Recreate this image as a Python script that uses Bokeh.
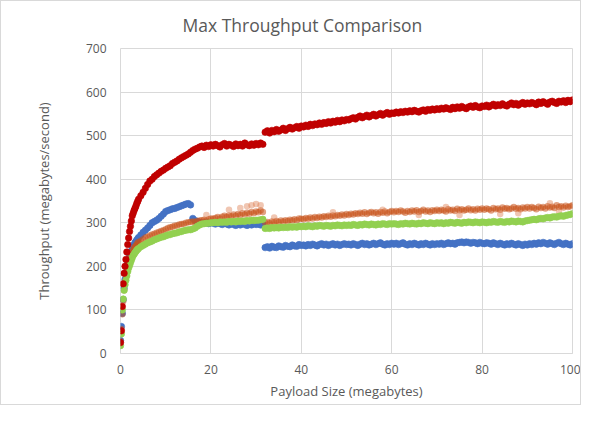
from bokeh.plotting import figure
from bokeh.models import Range1d, FixedTicker
from bokeh.embed import file_html
from bokeh.resources import INLINE

# ---------------- data ----------------
payload_mb = [0, 0.2, 0.4, 0.6, 0.8, 1.0, 1.2, 1.4, 1.6, 1.8, 2.0, 2.2, 2.4, 2.6, 2.8, 3.0, 3.2, 3.4, 3.6, 3.8, 4.0,
              4.5, 5, 5.5, 6, 6.5, 7, 7.5, 8, 8.5, 9, 9.5, 10,
              10.5, 11, 11.5, 12, 12.5, 13, 13.5, 14, 14.5, 15, 15.5, 16, 16.5, 17, 17.5, 18, 18.5, 19, 19.5, 20,
              20.5, 21, 21.5, 22, 22.5, 23, 23.5, 24, 24.5, 25, 25.5, 26, 26.5, 27, 27.5, 28, 28.5, 29, 29.5, 30,
              30.5, 31, 31.5, 32, 32.5, 33, 33.5, 34, 34.5, 35, 35.5, 36, 36.5, 37, 37.5, 38, 38.5, 39, 39.5, 40,
              40.5, 41, 41.5, 42, 42.5, 43, 43.5, 44, 44.5, 45, 45.5, 46, 46.5, 47, 47.5, 48, 48.5, 49, 49.5, 50,
              50.5, 51, 51.5, 52, 52.5, 53, 53.5, 54, 54.5, 55, 55.5, 56, 56.5, 57, 57.5, 58, 58.5, 59, 59.5, 60,
              60.5, 61, 61.5, 62, 62.5, 63, 63.5, 64, 64.5, 65, 65.5, 66, 66.5, 67, 67.5, 68, 68.5, 69, 69.5, 70,
              70.5, 71, 71.5, 72, 72.5, 73, 73.5, 74, 74.5, 75, 75.5, 76, 76.5, 77, 77.5, 78, 78.5, 79, 79.5, 80,
              80.5, 81, 81.5, 82, 82.5, 83, 83.5, 84, 84.5, 85, 85.5, 86, 86.5, 87, 87.5, 88, 88.5, 89, 89.5, 90,
              90.5, 91, 91.5, 92, 92.5, 93, 93.5, 94, 94.5, 95, 95.5, 96, 96.5, 97, 97.5, 98, 98.5, 99, 99.5, 100]

red_series = [25, 52, 108, 160, 184, 200, 216, 233, 250, 265, 280, 292, 304, 316, 322, 328, 333, 338, 344, 349, 354,
              362, 370, 379, 388, 396, 400, 406, 410, 414, 418, 421, 425,
              428, 431, 436, 439, 442, 446, 449, 452, 455, 458, 462, 466, 469, 471, 474, 476, 473, 478, 475, 479,
              476, 480, 477, 474, 479, 482, 476, 480, 478, 475, 481, 477, 480, 476, 483, 479, 477, 481, 478, 482,
              479, 483, 480, 508, 511, 506, 512, 509, 514, 510, 513, 517, 512, 516, 519, 515, 518, 521, 517, 522,
              520, 524, 521, 526, 523, 527, 525, 529, 526, 530, 528, 532, 529, 533, 531, 535, 532, 536, 534, 537,
              536, 539, 541, 538, 542, 545, 541, 544, 547, 543, 546, 549, 545, 548, 551, 547, 550, 553, 549, 552,
              551, 554, 552, 555, 553, 556, 554, 557, 555, 558, 556, 554, 557, 559, 556, 560, 558, 561, 559, 562,
              560, 563, 561, 564, 562, 560, 565, 562, 566, 563, 567, 564, 562, 566, 568, 565, 569, 566, 564, 568,
              567, 570, 566, 569, 572, 568, 571, 569, 573, 570, 568, 572, 575, 571, 574, 570, 573, 576, 572, 575,
              573, 576, 574, 571, 577, 574, 578, 575, 572, 577, 579, 576, 574, 579, 577, 580, 576, 581, 578, 582]

blue_series = [30, 62, 92, 124, 150, 170, 185, 198, 208, 216, 222, 228, 234, 240, 245, 250, 254, 257, 260, 263, 266,
               272, 278, 283, 288, 294, 300, 303, 306, 310, 315, 320, 326,
               328, 330, 332, 333, 335, 337, 339, 341, 343, 344, 341, 310, 305, 303, 301, 300, 299, 301, 298, 300,
               299, 297, 300, 298, 296, 299, 297, 295, 298, 296, 294, 297, 295, 298, 296, 294, 297, 295, 298, 296,
               297, 295, 298, 243, 245, 242, 246, 244, 243, 247, 245, 244, 248, 246, 245, 249, 247, 246, 250, 248,
               249, 247, 250, 248, 251, 249, 247, 250, 252, 249, 251, 248, 250, 252, 249, 251, 248, 250, 252, 250,
               251, 249, 252, 250, 248, 251, 253, 250, 252, 249, 251, 253, 250, 252, 254, 251, 249, 252, 250, 253,
               251, 253, 250, 252, 254, 251, 249, 252, 250, 253, 251, 249, 252, 250, 253, 251, 249, 252, 250, 252,
               251, 253, 250, 252, 254, 252, 253, 251, 254, 255, 256, 254, 256, 255, 253, 255, 254, 252, 255, 253,
               252, 254, 253, 251, 254, 252, 250, 253, 251, 249, 252, 250, 253, 251, 249, 252, 250, 248, 251, 249,
               252, 250, 253, 251, 254, 252, 255, 253, 251, 254, 252, 250, 253, 255, 252, 250, 253, 251, 249, 252]

orange_series = [28, 56, 90, 120, 145, 165, 180, 192, 202, 210, 218, 224, 230, 234, 238, 242, 245, 248, 251, 254, 256,
                 259, 262, 266, 268, 271, 273, 275, 277, 279, 281, 283, 285,
                 288, 290, 291, 293, 294, 296, 297, 298, 300, 301, 302, 303, 302, 304, 305, 306, 307, 305, 308, 310,
                 309, 311, 313, 310, 314, 316, 313, 317, 315, 319, 316, 320, 318, 322, 319, 323, 321, 325, 322, 326,
                 324, 328, 325, 300, 302, 299, 303, 301, 304, 302, 305, 303, 306, 304, 307, 305, 308, 306, 310, 309,
                 308, 311, 309, 312, 310, 313, 311, 314, 312, 315, 313, 316, 314, 317, 315, 318, 316, 319, 317, 320,
                 318, 321, 319, 322, 320, 323, 321, 324, 320, 323, 325, 322, 324, 321, 325, 323, 326, 322, 325, 327,
                 324, 327, 325, 328, 326, 323, 327, 325, 328, 326, 329, 325, 327, 330, 326, 328, 325, 329, 327, 330,
                 327, 330, 328, 326, 331, 328, 330, 327, 332, 329, 331, 328, 330, 333, 329, 331, 328, 332, 330, 333,
                 330, 333, 331, 328, 334, 331, 333, 330, 335, 332, 334, 331, 333, 336, 332, 334, 331, 335, 333, 336,
                 333, 336, 334, 331, 337, 334, 336, 333, 338, 335, 337, 334, 340, 336, 338, 335, 339, 336, 338, 340]

green_series = [18, 45, 100, 125, 145, 158, 168, 178, 188, 196, 202, 208, 214, 220, 225, 228, 231, 234, 237, 239, 241,
                245, 248, 251, 254, 256, 258, 261, 263, 265, 267, 268, 270,
                272, 273, 275, 276, 277, 279, 280, 282, 283, 284, 284, 286, 288, 292, 295, 297, 298, 299, 299, 300,
                300, 301, 300, 302, 301, 302, 301, 303, 302, 303, 302, 304, 303, 304, 303, 305, 304, 306, 305, 306,
                306, 307, 308, 287, 288, 287, 289, 288, 289, 288, 290, 289, 290, 289, 291, 290, 291, 290, 292, 291,
                292, 291, 293, 292, 291, 293, 292, 294, 293, 292, 294, 293, 292, 294, 293, 295, 294, 293, 295, 294,
                295, 294, 296, 295, 294, 296, 295, 297, 296, 295, 297, 296, 295, 297, 296, 298, 297, 296, 298, 297,
                298, 297, 296, 298, 297, 299, 298, 297, 299, 298, 297, 299, 298, 300, 299, 298, 300, 299, 298, 300,
                299, 300, 298, 300, 299, 301, 300, 299, 301, 300, 299, 301, 300, 302, 301, 300, 302, 301, 300, 302,
                301, 300, 302, 301, 303, 302, 301, 303, 302, 301, 303, 302, 304, 303, 302, 304, 303, 302, 304, 305,
                306, 307, 308, 307, 309, 310, 309, 311, 312, 311, 313, 314, 313, 315, 316, 315, 317, 318, 319, 321]

# a few scattered orange readings lying off the main band
orange_extra_x = [19, 24, 26.5, 28, 29, 30, 31, 34, 47, 58, 66, 72, 75, 84, 88, 95, 97]
orange_extra_y = [318, 330, 334, 338, 340, 343, 340, 312, 324, 330, 318, 336, 318, 320, 322, 345, 326]

chart_title = "Max Throughput Comparison"
x_ticks = [0, 20, 40, 60, 80, 100]
y_ticks = [0, 100, 200, 300, 400, 500, 600, 700]

FONT = "Open Sans"
TXT = "#595959"
GRID = "#d9d9d9"

p = figure(width=581, height=405, output_backend="svg", toolbar_location=None,
           x_range=Range1d(0, 100), y_range=Range1d(0, 700),
           min_border_left=119, min_border_right=10, min_border_top=47, min_border_bottom=53)

p.title.text = chart_title
p.title.align = "left"
p.title.offset = 62
p.title.vertical_align = "top"
p.title.text_font = FONT
p.title.text_font_size = "17.5px"
p.title.text_font_style = "normal"
p.title.text_color = TXT
p.title.standoff = 20

p.xaxis.ticker = FixedTicker(ticks=x_ticks)
p.yaxis.ticker = FixedTicker(ticks=y_ticks)
for ax in (p.xaxis[0], p.yaxis[0]):
    ax.major_tick_line_color = None
    ax.minor_tick_line_color = None
    ax.major_label_text_font = FONT
    ax.major_label_text_font_size = "12px"
    ax.major_label_text_color = TXT
    ax.axis_label_text_font = FONT
    ax.axis_label_text_font_size = "13px"
    ax.axis_label_text_font_style = "normal"
    ax.axis_label_text_color = TXT
p.xaxis.axis_label = "Payload Size (megabytes)"
p.yaxis.axis_label = "Throughput (megabytes/second)"
p.xaxis.axis_line_color = GRID
p.yaxis.axis_line_color = None
p.xaxis.major_label_standoff = 5
p.xaxis.axis_label_standoff = 5
p.yaxis.major_label_standoff = 8
p.yaxis.axis_label_standoff = 30

p.xgrid.grid_line_color = GRID
p.ygrid.grid_line_color = GRID
p.outline_line_color = GRID

SZ = 6.5
p.scatter(payload_mb, blue_series, size=SZ, fill_color="#4472C4", line_color="#4472C4", line_alpha=0.6)
p.scatter(payload_mb, orange_series, size=SZ, fill_color="#C9541C", line_color=None, fill_alpha=0.55)
p.scatter(orange_extra_x, orange_extra_y, size=SZ, fill_color="#D9703F", line_color=None, fill_alpha=0.4)
p.scatter(payload_mb, green_series, size=SZ, fill_color="#92D050", line_color="#92D050", line_alpha=0.6)
p.scatter(payload_mb, red_series, size=SZ, fill_color="#C00000", line_color="#C00000", line_alpha=0.6)

p.styles = {"border": "1px solid #d9d9d9"}

open("out.html", "w").write(file_html(p, INLINE))
